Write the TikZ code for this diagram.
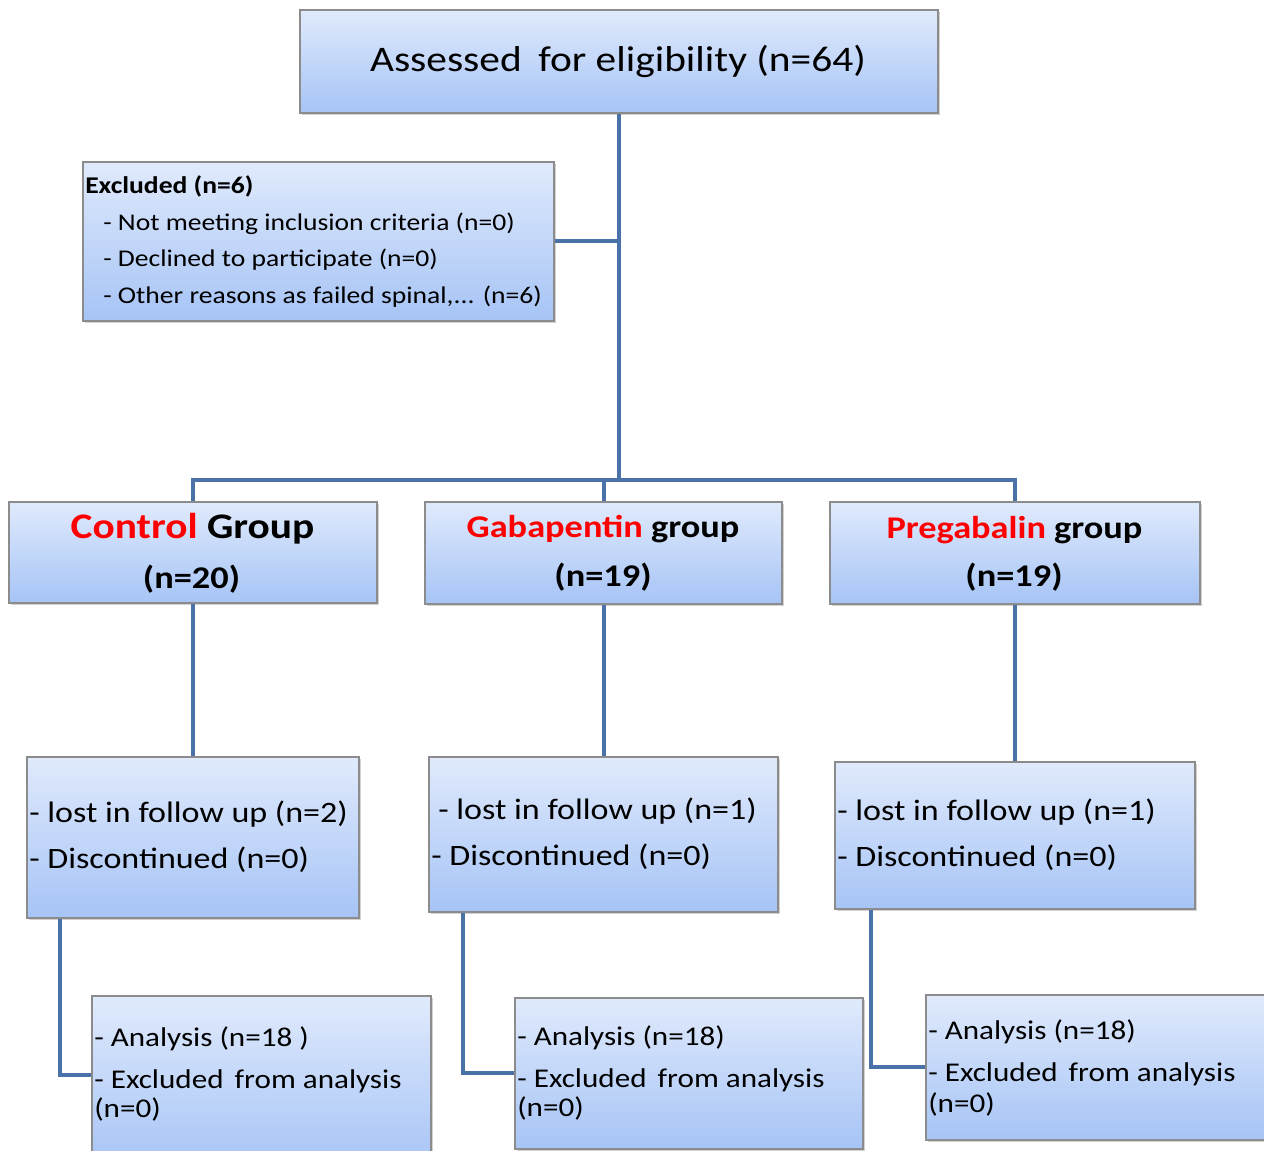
\documentclass[tikz,border=0pt]{standalone}
\usepackage{fontspec}
\setmainfont{Carlito}[FakeStretch=1.15]
\usetikzlibrary{shadows,fit}
\definecolor{boxtop}{RGB}{224,234,252}
\definecolor{boxbot}{RGB}{166,196,246}
\definecolor{boxline}{RGB}{140,140,140}
\definecolor{conncol}{RGB}{74,114,168}
\definecolor{grpred}{RGB}{255,0,0}
\begin{document}
\begin{tikzpicture}[x=0.75pt,y=-0.75pt,
  box/.style={draw=boxline, line width=0.8pt, top color=boxtop, bottom color=boxbot,
    inner sep=0pt, drop shadow={shadow xshift=1.5pt, shadow yshift=-1.5pt, opacity=0.35}},
  conn/.style={draw=conncol, line width=3pt},
  txt/.style={inner sep=0pt, anchor=base west},
  ctxt/.style={inner sep=0pt, anchor=base},
  titlefont/.style={font=\fontsize{27}{32}\selectfont},
  exfont/.style={font=\fontsize{18}{22}\selectfont},
  exbold/.style={font=\fontsize{18}{22}\selectfont\bfseries},
  bigfont/.style={font=\fontsize{27}{32}\selectfont\bfseries},
  grpfont/.style={font=\fontsize{23.7}{28}\selectfont\bfseries},
  lostfont/.style={font=\fontsize{22.2}{26}\selectfont},
  anfont/.style={font=\fontsize{20.3}{24}\selectfont}
]
\fill[white] (0,0) rectangle (1264,1151);
\useasboundingbox (0,0) rectangle (1264,1151);

% boxes
\node[box, fit={(300,10) (938,113)}] (top) {};
\node[box, fit={(83,162) (554,321)}] (excl) {};
\node[box, fit={(9,502) (377,603)}] (ctrl) {};
\node[box, fit={(425,502) (782,604)}] (gab) {};
\node[box, fit={(830,502) (1200,604)}] (preg) {};
\node[box, fit={(27,757) (359,918)}] (lost1) {};
\node[box, fit={(429,757) (778,912)}] (lost2) {};
\node[box, fit={(835,762) (1195,909)}] (lost3) {};
\node[box, fit={(92,996) (431,1170)}] (an1) {};
\node[box, fit={(515,998) (863,1149)}] (an2) {};
\node[box, fit={(926,995) (1280,1140)}] (an3) {};

% connector coordinates
\coordinate (hub) at (619,480);
\coordinate (e1) at (60,1075);
\coordinate (e2) at (463,1073);
\coordinate (e3) at (871,1067);

% connectors
\draw[conn] (top.south) -- (top.south |- hub);
\draw[conn] (excl.east) -- (excl.east -| top.south);
\draw[conn] (ctrl.north) -- (ctrl.north |- hub) -- (preg.north |- hub) -- (preg.north);
\draw[conn] (gab.north |- hub) -- (gab.north);
\draw[conn] (ctrl.south) -- (lost1.north);
\draw[conn] (gab.south) -- (lost2.north);
\draw[conn] (preg.south) -- (preg.south |- lost3.north);
\draw[conn] (e1 |- lost1.south) -- (e1) -- (e1 -| an1.west);
\draw[conn] (e2 |- lost2.south) -- (e2) -- (e2 -| an2.west);
\draw[conn] (e3 |- lost3.south) -- (e3) -- (e3 -| an3.west);

% texts
\node[ctxt, titlefont] (toptxt) at (618,72) {Assessed\hspace{0.2em} for eligibility (n=64)};

\node[txt, exbold] (ex0) at (85,194) {Excluded (n=6)};
\node[txt, exfont] (ex1) at (103,231) {- Not meeting inclusion criteria (n=0)};
\node[txt, exfont] (ex2) at (103,267) {- Declined to participate (n=0)};
\node[txt, exfont] (ex3) at (103,304) {- Other reasons as failed spinal,... (n=6)};

\node[ctxt, bigfont] (ctrlT) at (192.5,539) {\textcolor{grpred}{Control} Group};
\node[ctxt, grpfont] (ctrlN) at (191.5,589) {(n=20)};
\node[ctxt, grpfont] (gabT) at (603,537.5) {\textcolor{grpred}{Gabapentin} group};
\node[ctxt, grpfont] (gabN) at (603,586) {(n=19)};
\node[ctxt, grpfont] (pregT) at (1014.5,538.5) {\textcolor{grpred}{Pregabalin} group};
\node[ctxt, grpfont] (pregN) at (1014,587) {(n=19)};

\node[txt, lostfont] (l1a) at (29,822) {- lost in follow up (n=2)};
\node[txt, lostfont] (l1b) at (29,868) {- Discontinued (n=0)};
\node[txt, lostfont] (l2a) at (438,819) {- lost in follow up (n=1)};
\node[txt, lostfont] (l2b) at (431,865) {- Discontinued (n=0)};
\node[txt, lostfont] (l3a) at (837,820) {- lost in follow up (n=1)};
\node[txt, lostfont] (l3b) at (837,866) {- Discontinued (n=0)};

\node[txt, anfont] (a1a) at (94,1046) {- Analysis (n=18 )};
\node[txt, anfont] (a1b) at (94,1088) {- Excluded\hspace{0.15em} from analysis};
\node[txt, anfont] (a1c) at (94,1117) {(n=0)};
\node[txt, anfont] (a2a) at (517,1045) {- Analysis (n=18)};
\node[txt, anfont] (a2b) at (517,1087) {- Excluded\hspace{0.15em} from analysis};
\node[txt, anfont] (a2c) at (517,1116) {(n=0)};
\node[txt, anfont] (a3a) at (928,1039) {- Analysis (n=18)};
\node[txt, anfont] (a3b) at (928,1081) {- Excluded\hspace{0.15em} from analysis};
\node[txt, anfont] (a3c) at (928,1112) {(n=0)};
\end{tikzpicture}
\end{document}
